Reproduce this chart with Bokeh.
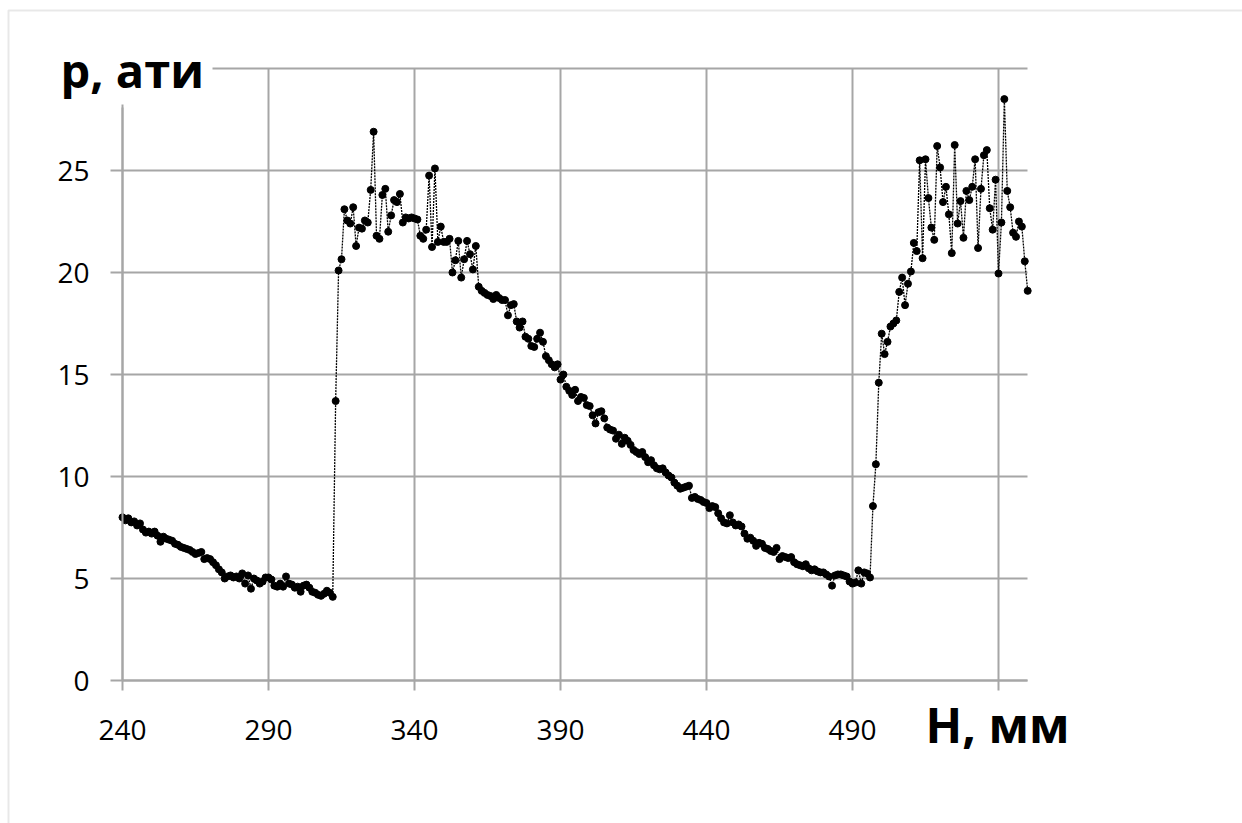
from bokeh.plotting import figure
from bokeh.models import Label, BoxAnnotation, Range1d, Grid
from bokeh.embed import file_html
from bokeh.resources import INLINE

H_MM = [
    240, 241, 242, 243, 244, 245, 246, 247, 248, 249,
    250, 251, 252, 253, 254, 255, 256, 257, 258, 259,
    260, 261, 262, 263, 264, 265, 266, 267, 268, 269,
    270, 271, 272, 273, 274, 275, 276, 277, 278, 279,
    280, 281, 282, 283, 284, 285, 286, 287, 288, 289,
    290, 291, 292, 293, 294, 295, 296, 297, 298, 299,
    300, 301, 302, 303, 304, 305, 306, 307, 308, 309,
    310, 311, 312, 313, 314, 315, 316, 317, 318, 319,
    320, 321, 322, 323, 324, 325, 326, 327, 328, 329,
    330, 331, 332, 333, 334, 335, 336, 337, 338, 339,
    340, 341, 342, 343, 344, 345, 346, 347, 348, 349,
    350, 351, 352, 353, 354, 355, 356, 357, 358, 359,
    360, 361, 362, 363, 364, 365, 366, 367, 368, 369,
    370, 371, 372, 373, 374, 375, 376, 377, 378, 379,
    380, 381, 382, 383, 384, 385, 386, 387, 388, 389,
    390, 391, 392, 393, 394, 395, 396, 397, 398, 399,
    400, 401, 402, 403, 404, 405, 406, 407, 408, 409,
    410, 411, 412, 413, 414, 415, 416, 417, 418, 419,
    420, 421, 422, 423, 424, 425, 426, 427, 428, 429,
    430, 431, 432, 433, 434, 435, 436, 437, 438, 439,
    440, 441, 442, 443, 444, 445, 446, 447, 448, 449,
    450, 451, 452, 453, 454, 455, 456, 457, 458, 459,
    460, 461, 462, 463, 464, 465, 466, 467, 468, 469,
    470, 471, 472, 473, 474, 475, 476, 477, 478, 479,
    480, 481, 482, 483, 484, 485, 486, 487, 488, 489,
    490, 491, 492, 493, 494, 495, 496, 497, 498, 499,
    500, 501, 502, 503, 504, 505, 506, 507, 508, 509,
    510, 511, 512, 513, 514, 515, 516, 517, 518, 519,
    520, 521, 522, 523, 524, 525, 526, 527, 528, 529,
    530, 531, 532, 533, 534, 535, 536, 537, 538, 539,
    540, 541, 542, 543, 544, 545, 546, 547, 548, 549,
    550,
]

P_ATI = [
    8.0, 7.85, 7.95, 7.75, 7.8, 7.6, 7.7, 7.4, 7.25, 7.3,
    7.2, 7.3, 7.1, 6.8, 7.05, 6.95, 6.9, 6.85, 6.7, 6.65,
    6.55, 6.5, 6.45, 6.4, 6.3, 6.2, 6.25, 6.3, 5.95, 6.0,
    5.95, 5.8, 5.65, 5.45, 5.3, 5.0, 5.1, 5.15, 5.05, 5.1,
    5.0, 5.25, 4.75, 5.15, 4.5, 5.0, 4.9, 4.75, 4.85, 5.05,
    5.05, 4.95, 4.65, 4.6, 4.75, 4.6, 5.1, 4.75, 4.7, 4.55,
    4.6, 4.35, 4.65, 4.7, 4.55, 4.35, 4.3, 4.2, 4.15, 4.25,
    4.4, 4.3, 4.1, 13.7, 20.1, 20.65, 23.1, 22.55, 22.4, 23.2,
    21.3, 22.2, 22.15, 22.55, 22.45, 24.05, 26.9, 21.8, 21.65, 23.8,
    24.1, 22.0, 22.8, 23.55, 23.45, 23.85, 22.45, 22.7, 22.65, 22.7,
    22.65, 22.6, 21.8, 21.65, 22.1, 24.75, 21.25, 25.1, 21.5, 22.25,
    21.5, 21.5, 21.65, 20.0, 20.6, 21.55, 19.75, 20.65, 21.55, 20.9,
    20.15, 21.3, 19.3, 19.1, 19.0, 18.9, 18.85, 18.7, 18.9, 18.75,
    18.65, 18.65, 17.9, 18.4, 18.45, 17.6, 17.3, 17.6, 16.85, 16.75,
    16.4, 16.35, 16.75, 17.05, 16.6, 15.9, 15.7, 15.5, 15.35, 15.5,
    14.75, 15.0, 14.4, 14.2, 14.0, 14.25, 13.7, 13.9, 13.85, 13.5,
    13.45, 13.0, 12.6, 13.15, 13.2, 12.85, 12.4, 12.3, 12.25, 11.85,
    12.05, 11.6, 11.9, 11.75, 11.55, 11.3, 11.2, 11.1, 11.2, 10.95,
    10.7, 10.8, 10.55, 10.4, 10.35, 10.4, 10.2, 10.05, 9.95, 9.7,
    9.55, 9.4, 9.45, 9.5, 9.55, 8.95, 9.0, 8.9, 8.85, 8.75,
    8.7, 8.45, 8.55, 8.5, 8.2, 7.95, 7.75, 7.7, 8.1, 7.75,
    7.6, 7.65, 7.55, 7.2, 6.95, 7.0, 6.85, 6.6, 6.75, 6.7,
    6.5, 6.45, 6.35, 6.3, 6.5, 5.95, 6.1, 6.05, 6.0, 6.05,
    5.8, 5.7, 5.65, 5.6, 5.7, 5.5, 5.4, 5.45, 5.35, 5.3,
    5.3, 5.2, 5.1, 4.65, 5.15, 5.2, 5.2, 5.15, 5.1, 4.85,
    4.75, 4.8, 5.4, 4.75, 5.3, 5.25, 5.05, 8.55, 10.6, 14.6,
    17.0, 16.0, 16.6, 17.35, 17.5, 17.65, 19.05, 19.75, 18.4, 19.45,
    20.05, 21.45, 21.05, 25.5, 20.7, 25.55, 23.65, 22.2, 21.6, 26.2,
    25.15, 23.45, 24.2, 22.85, 20.95, 26.25, 22.4, 23.5, 21.7, 24.0,
    23.55, 24.2, 25.55, 21.2, 24.1, 25.75, 26.0, 23.15, 22.1, 24.55,
    19.95, 22.45, 28.5, 24.0, 23.2, 21.95, 21.75, 22.5, 22.25, 20.55,
    19.1,
]

X_TICKS = [240, 290, 340, 390, 440, 490, 540]
Y_TICKS = [0, 5, 10, 15, 20, 25, 30]
X_TITLE = "H, мм"
Y_TITLE = "p, ати"

# ---- layout (pixels) ----
W, H = 1242, 823
X0_PX, X_SCALE = 122, 2.92      # px position of x=240, px per mm
Y0_PX, Y_SCALE = 680, 20.4      # px position of p=0, px per unit
X_MIN, X_MAX = 240, 550
Y_MIN, Y_MAX = 0, 30


def dx(px):
    return X_MIN + (px - X0_PX) / X_SCALE


def dy(py):
    return Y_MIN + (Y0_PX - py) / Y_SCALE


GRID = "#a6a6a6"
FONT = "Open Sans"

x_range = Range1d(dx(0), dx(W))
y_range = Range1d(dy(H), dy(0))

p = figure(
    width=W, height=H, x_range=x_range, y_range=y_range,
    output_backend="svg", toolbar_location=None,
    min_border=0, min_border_left=0, min_border_right=0,
    min_border_top=0, min_border_bottom=0,
)
p.outline_line_color = None
p.background_fill_color = "white"
p.border_fill_color = "white"

# grids
p.xgrid.ticker = X_TICKS
p.ygrid.ticker = Y_TICKS
p.xgrid.bounds = (X_MIN, X_MAX)
p.ygrid.bounds = (Y_MIN, Y_MAX)
if "cross_bounds" in Grid.properties():
    p.xgrid.cross_bounds = (Y_MIN, Y_MAX)
    p.ygrid.cross_bounds = (X_MIN, X_MAX)
for g in (p.xgrid, p.ygrid):
    g.grid_line_color = GRID
    g.grid_line_width = 2

# axes, drawn at fixed data positions inside the frame
p.xaxis.fixed_location = Y_MIN
p.yaxis.fixed_location = X_MIN
p.xaxis.ticker = X_TICKS
p.xaxis.major_label_overrides = {540: ""}
p.xaxis.bounds = (X_MIN, X_MAX)
p.yaxis.ticker = Y_TICKS
p.yaxis.major_label_overrides = {30: ""}
p.yaxis.bounds = (Y_MIN, dy(107))
for ax in (p.xaxis, p.yaxis):
    ax.axis_line_color = GRID
    ax.axis_line_width = 2
    ax.major_tick_line_color = GRID
    ax.major_tick_line_width = 2
    ax.minor_tick_line_color = None
    ax.major_tick_in = 0
    ax.major_label_text_font = FONT
    ax.major_label_text_font_size = "28px"
    ax.major_label_text_color = "black"
p.xaxis.major_tick_out = 10
p.yaxis.major_tick_out = 12
p.xaxis.major_label_standoff = 29
p.yaxis.major_label_standoff = 21

# data
p.line(H_MM, P_ATI, line_color="black", line_width=1.3, line_dash="2 1")
p.scatter(H_MM, P_ATI, size=7, color="black")

# white patch behind the y title (hides the top gridline there)
p.add_layout(BoxAnnotation(left=dx(50), right=dx(212), top=dy(38), bottom=dy(104),
                           fill_color="white", fill_alpha=1, line_alpha=0,
                           level="annotation"))

# axis titles
p.add_layout(Label(x=dx(60), y=dy(69), text=Y_TITLE, text_font=FONT,
                   text_font_size="47px", text_font_style="bold",
                   text_baseline="alphabetic", text_color="black"))
p.add_layout(Label(x=dx(925), y=dy(724), text=X_TITLE, text_font=FONT,
                   text_font_size="48px", text_font_style="bold",
                   text_baseline="alphabetic", text_color="black"))

# outer chart-area border
p.add_layout(BoxAnnotation(left=8, right=1400, top=10, bottom=1000,
                           left_units="canvas", right_units="canvas",
                           top_units="canvas", bottom_units="canvas",
                           fill_alpha=0, line_color="#b4b4b4", line_width=2,
                           level="overlay"))

open("out.html", "w").write(file_html(p, INLINE))
